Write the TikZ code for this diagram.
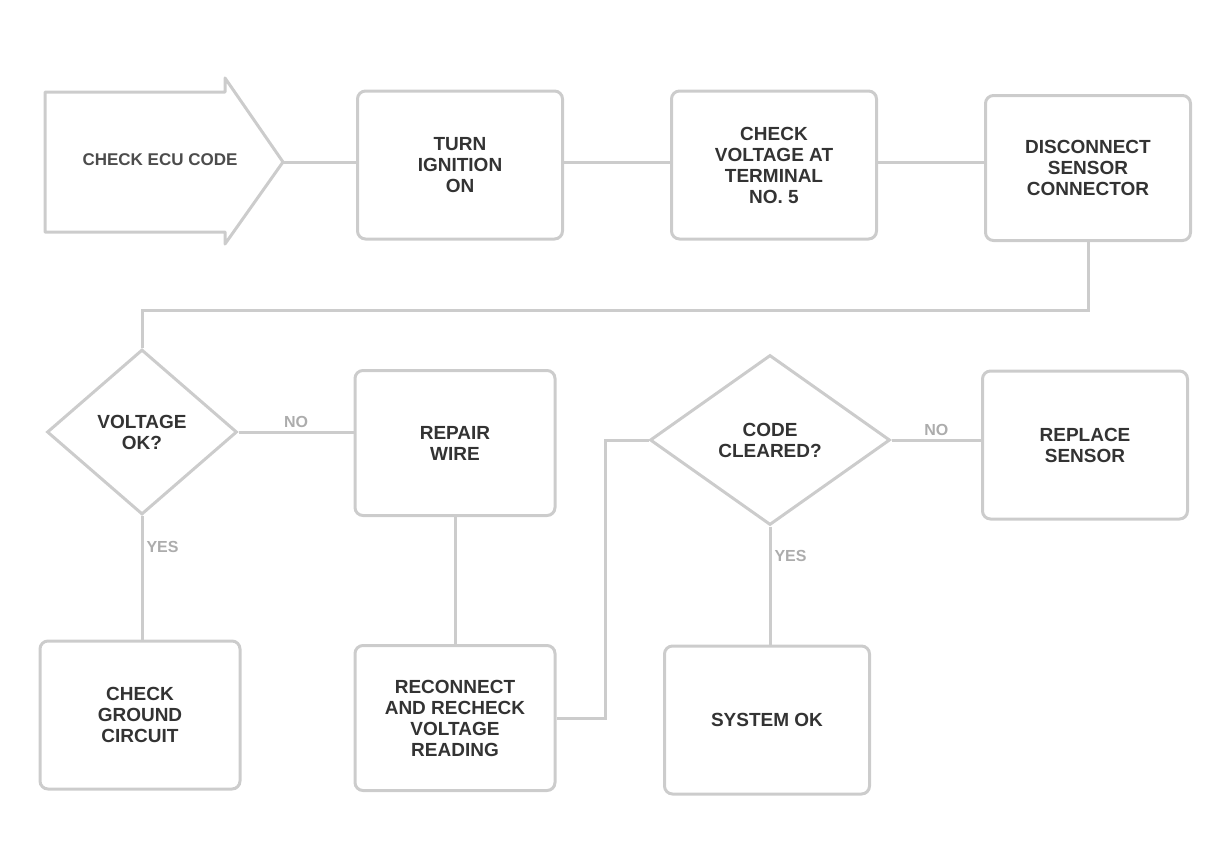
\documentclass[tikz,border=0pt]{standalone}
\usepackage{fontspec}
\setmainfont{Liberation Sans}
\usetikzlibrary{shapes.geometric}
\tikzset{
  boxnode/.style={draw=gray!40, line width=3pt, rounded corners=8pt, minimum width=205, minimum height=148, align=center, inner sep=4pt, font=\bfseries\fontsize{19}{21}\selectfont, text=black!80},
  decnode/.style={diamond, draw=gray!40, line width=3pt, inner sep=0pt, align=center, font=\bfseries\fontsize{19}{21}\selectfont, text=black!80},
  link/.style={draw=gray!40, line width=3pt},
  lbl/.style={font=\bfseries\fontsize{16}{18}\selectfont, text=gray!65, inner sep=3pt}
}
\begin{document}
\begin{tikzpicture}[x=1pt,y=-1pt]
\useasboundingbox (0,0) rectangle (1228,867);
% first arrow-shaped box
\draw[draw=gray!40, line width=3pt, line join=round] (45,92) -- (225,92) -- (225,78) -- (283,162) -- (225,244) -- (225,232) -- (45,232) -- cycle;
\node[font=\bfseries\fontsize{17}{19}\selectfont, text=black!70] (b1) at (160,160) {CHECK ECU CODE};
\coordinate (b1tip) at (283,162);
\node[boxnode] (b2) at (460,165) {TURN\\ IGNITION\\ ON};
\node[boxnode] (b3) at (774,165) {CHECK\\ VOLTAGE AT\\ TERMINAL\\ NO. 5};
\node[boxnode, minimum height=145] (b4) at (1088,168) {DISCONNECT\\ SENSOR\\ CONNECTOR};
\node[decnode, minimum width=190, minimum height=165] (d1) at (142,432) {VOLTAGE\\ OK?};
\node[boxnode, minimum width=200, minimum height=145] (b5) at (455,443) {REPAIR\\ WIRE};
\node[decnode, minimum width=240, minimum height=170] (d2) at (770,440) {CODE\\ CLEARED?};
\node[boxnode] (b6) at (1085,445) {REPLACE\\ SENSOR};
\node[boxnode, minimum width=200] (b7) at (140,715) {CHECK\\ GROUND\\ CIRCUIT};
\node[boxnode, minimum width=200, minimum height=145] (b8) at (455,718) {RECONNECT\\ AND RECHECK\\ VOLTAGE\\ READING};
\node[boxnode] (b9) at (767,720) {SYSTEM OK};
\coordinate (turn1) at (1088,310);
\coordinate (turn2) at (605,718);
% connectors
\draw[link] (b1tip) -- (b1tip -| b2.west);
\draw[link] (b2.east |- b1tip) -- (b1tip -| b3.west);
\draw[link] (b3.east |- b1tip) -- (b1tip -| b4.west);
\draw[link] (b4.south) -- (turn1) -| (d1.north);
\draw[link] (d1.east) -- node[lbl, above] {NO} (d1.east -| b5.west);
\draw[link] (d1.south) -- node[lbl, right, pos=0.25] {YES} (d1.south |- b7.north);
\draw[link] (b5.south) -- (b5.south |- b8.north);
\draw[link] (b8.east) -- (turn2) |- (d2.west);
\draw[link] (d2.east) -- node[lbl, above] {NO} (d2.east -| b6.west);
\draw[link] (d2.south) -- node[lbl, right, pos=0.25] {YES} (d2.south |- b9.north);
\end{tikzpicture}
\end{document}
